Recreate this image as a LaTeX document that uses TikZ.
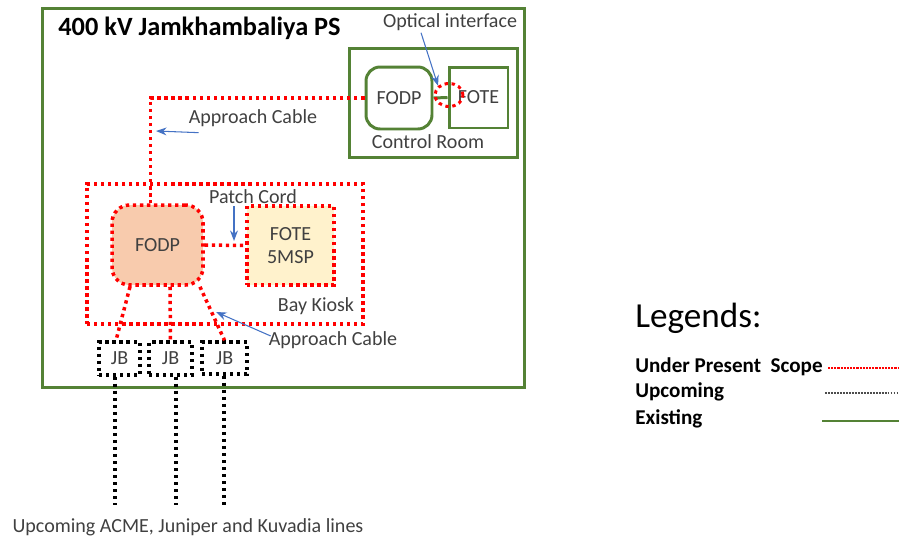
\documentclass[tikz,border=0pt]{standalone}
\usepackage{fontspec}
\setmainfont{Carlito}
\usetikzlibrary{arrows.meta,positioning,calc,shapes.geometric}
\definecolor{exgreen}{HTML}{548235}
\definecolor{calloutblue}{HTML}{4472C4}
\definecolor{fodpfill}{HTML}{F8CBAD}
\definecolor{fotefill}{HTML}{FFF2CC}
\definecolor{lbltext}{HTML}{404040}

\begin{document}
\begin{tikzpicture}[
  x=0.02cm, y=-0.02cm,
  existing/.style={draw=exgreen, line width=1.7pt},
  present/.style={draw=red, line width=2pt, dash pattern=on 1.9pt off 2.1pt},
  upcoming/.style={draw=black, line width=1.9pt, dash pattern=on 1.8pt off 2.2pt},
  unit/.style={rectangle, inner sep=0pt, align=center,
               font=\fontsize{11.4}{13.5}\selectfont, text=lbltext},
  lbl/.style={font=\fontsize{11.4}{13.5}\selectfont, text=lbltext, inner sep=1pt},
  legtext/.style={font=\bfseries\fontsize{12}{14}\selectfont, anchor=west, inner sep=0pt},
  callout/.style={-{Stealth[length=6pt,width=4.5pt]}, draw=calloutblue, line width=0.6pt}
]
  \useasboundingbox (0,0) rectangle (899,541);

  % substation and control room
  \node[existing, minimum width=9.66cm, minimum height=7.6cm] (ps) at (283.5,198) {};
  \node[font=\bfseries\fontsize{15}{18}\selectfont, anchor=west, inner sep=0pt] (title) at (58,28)
       {400 kV Jamkhambaliya PS};
  \node[existing, minimum width=3.38cm, minimum height=2.2cm] (ctrl) at (433.5,103) {};
  \node[lbl] (ctrllbl) at (428,142) {Control Room};
  \node[unit, existing, rounded corners=8pt, minimum width=1.32cm, minimum height=1.24cm]
       (cfodp) at (399,98) {FODP};
  \node[unit, existing, minimum width=1.18cm, minimum height=1.22cm]
       (cfote) at (478.5,97.5) {FOTE};
  \draw[existing] (cfodp.east) -- (cfote.west);
  \node[present, ellipse, line width=1.7pt, minimum width=0.56cm, minimum height=0.46cm]
       (oi) at (449,95) {};
  \node[lbl] (oilbl) at (450,22) {Optical interface};
  \draw[callout] ($(oilbl.south)+(-29,0)$) -- (oi.north west);

  % bay kiosk
  \node[present, minimum width=5.52cm, minimum height=2.8cm] (bk) at (225,254) {};
  \node[lbl] (bklbl) at (316,306) {Bay Kiosk};
  \node[unit, present, fill=fodpfill, rounded corners=10pt, minimum width=1.82cm, minimum height=1.6cm]
       (bfodp) at (157.5,245) {FODP};
  \node[unit, present, fill=fotefill, minimum width=1.74cm, minimum height=1.58cm]
       (bfote) at (290.5,245.5) {FOTE\\5MSP};
  \draw[present] (bfodp.east) -- (bfote.west);
  \node[lbl] (pclbl) at (253,197) {Patch Cord};
  \coordinate (pcpt) at (234,241);
  \draw[callout] (pclbl.south -| pcpt) -- (pcpt);

  % approach cable to control room
  \draw[present] (cfodp.west) -| ([xshift=-0.14cm]bfodp.north);
  \node[lbl] (ac1lbl) at (253,118) {Approach Cable};
  \coordinate (ac1pt) at (156,131);
  \draw[callout] ($(ac1lbl.south west)+(12,4)$) -- (ac1pt);

  % junction boxes
  \node[unit, upcoming, minimum width=0.82cm, minimum height=0.66cm] (jb1) at (119.5,358.5) {JB};
  \node[unit, upcoming, minimum width=0.86cm, minimum height=0.66cm] (jb2) at (170.5,358.5) {JB};
  \node[unit, upcoming, minimum width=0.9cm, minimum height=0.64cm]  (jb3) at (224.5,358) {JB};
  \draw[present] ([xshift=-0.55cm]bfodp.south) -- ([xshift=-0.07cm]jb1.north);
  \draw[present] ([xshift=0.25cm]bfodp.south) -- (jb2.north);
  \draw[present] ([xshift=0.85cm]bfodp.south) -- (jb3.north);
  \node[lbl] (ac2lbl) at (333,340) {Approach Cable};
  \coordinate (ac2pt) at (216,312);
  \draw[callout] ($(ac2lbl.west)+(4,-4)$) -- (ac2pt);

  % outgoing lines
  \node[lbl] (lines) at (188,527) {Upcoming ACME, Juniper and Kuvadia lines};
  \coordinate (l1) at (115,505);
  \coordinate (l2) at (176,505);
  \coordinate (l3) at (224,505);
  \draw[upcoming] (jb1.south -| l1) -- (l1);
  \draw[upcoming] (jb2.south -| l2) -- (l2);
  \draw[upcoming] (jb3.south -| l3) -- (l3);

  % legend
  \node[font=\fontsize{20}{24}\selectfont, anchor=west, inner sep=0pt] (leg) at (635,318) {Legends:};
  \node[legtext] (lgscope) at (635,367) {Under Present\ \ Scope};
  \node[legtext] (lgup)    at (635,392) {Upcoming};
  \node[legtext] (lgex)    at (635,419) {Existing};
  \coordinate (ls1) at (828,368); \coordinate (le1) at (899,368);
  \coordinate (ls2) at (825,393); \coordinate (le2) at (899,393);
  \coordinate (ls3) at (822,421); \coordinate (le3) at (899,421);
  \draw[draw=red, line width=1.5pt, dash pattern=on 1.2pt off 0.6pt] (ls1) -- (le1);
  \draw[draw=black!70, line width=1.2pt, dash pattern=on 1pt off 0.7pt] (ls2) -- (le2);
  \draw[draw=exgreen, line width=1.5pt] (ls3) -- (le3);
\end{tikzpicture}
\end{document}
